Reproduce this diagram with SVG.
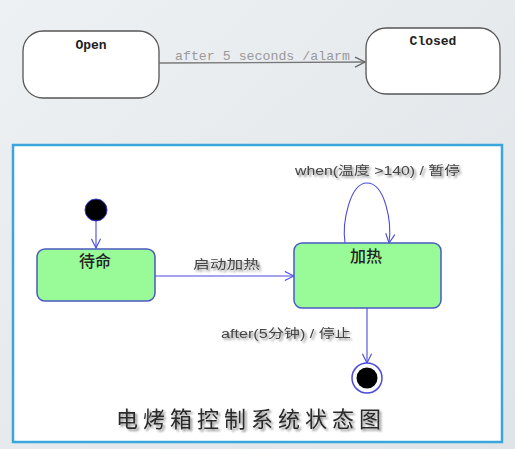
<svg xmlns="http://www.w3.org/2000/svg" width="515" height="449" viewBox="0 0 515 449">
<defs>
<linearGradient id="bg" x1="0" y1="0" x2="1" y2="1">
<stop offset="0" stop-color="#eef1f3"/>
<stop offset="0.5" stop-color="#e6eaed"/>
<stop offset="1" stop-color="#dfe4e8"/>
</linearGradient>
<marker id="grayArrow" viewBox="0 0 12 12" refX="11" refY="6" markerWidth="12" markerHeight="12" markerUnits="userSpaceOnUse" orient="auto">
<path d="M1,1 L11,6 L1,11" fill="none" stroke="#666" stroke-width="1.3"/>
</marker>
<marker id="blueArrow" viewBox="0 0 12 12" refX="11" refY="6" markerWidth="11" markerHeight="11" markerUnits="userSpaceOnUse" orient="auto">
<path d="M1,1 L11,6 L1,11" fill="none" stroke="#4a4ae0" stroke-width="1.2"/>
</marker>
<filter id="shadow" x="-10%" y="-10%" width="130%" height="140%">
<feGaussianBlur in="SourceAlpha" stdDeviation="1.2"/>
<feOffset dx="1.5" dy="1.5" result="b"/>
<feComponentTransfer><feFuncA type="linear" slope="0.45"/></feComponentTransfer>
<feMerge><feMergeNode/><feMergeNode in="SourceGraphic"/></feMerge>
</filter>
</defs>
<style>
.uml { fill: #ffffff; stroke: #555; stroke-width: 1.3; }
.umltxt { font-family: "Liberation Mono", "DejaVu Sans Mono", monospace; font-weight: bold; font-size: 13px; fill: #222; text-anchor: middle; }
.graylbl { font-family: "Liberation Mono", monospace; font-size: 13px; fill: #9a9a9a; }
.state { fill: #98fb98; stroke: #4a58c0; stroke-width: 1.5; }
.stxt { font-family: "Noto Sans CJK SC", sans-serif; font-size: 16px; font-weight: 500; fill: #222; text-anchor: middle; }
.lbl { font-family: "Liberation Sans", "Noto Sans CJK SC", sans-serif; font-size: 12.5px; fill: #444; }
.edge { fill: none; stroke: #4a4ae0; stroke-width: 1.1; }
</style>
<rect x="0" y="0" width="515" height="449" fill="url(#bg)"/>

<g id="node-open">
<rect class="uml" x="23" y="31" width="136" height="67" rx="20" ry="20"/>
<text class="umltxt" x="91" y="49">Open</text>
</g>
<g id="node-closed">
<rect class="uml" x="366" y="28" width="134" height="66" rx="20" ry="20"/>
<text class="umltxt" x="433" y="45">Closed</text>
</g>

<g id="panel">
<rect x="13" y="145" width="489" height="297" fill="#ffffff" stroke="#3aa6dc" stroke-width="2.5"/>
</g>

<g id="connectors">
<line x1="159" y1="63" x2="365" y2="62" stroke="#777" stroke-width="1.3" marker-end="url(#grayArrow)"/>
<text class="graylbl" x="175" y="60" textLength="175" lengthAdjust="spacingAndGlyphs">after 5 seconds /alarm</text>
<line class="edge" x1="96" y1="221" x2="96" y2="248" marker-end="url(#blueArrow)"/>
<line class="edge" x1="155" y1="276" x2="294" y2="276" marker-end="url(#blueArrow)"/>
<text class="lbl" x="193" y="269" font-family="Noto Sans CJK SC, sans-serif" font-size="16" textLength="67" lengthAdjust="spacingAndGlyphs" filter="url(#shadow)">启动加热</text>
<path class="edge" d="M345,243 C342,222 350,183 367,183 C385,183 392,222 389,243" marker-end="url(#blueArrow)"/>
<text class="lbl" x="295" y="175" textLength="165" lengthAdjust="spacingAndGlyphs" filter="url(#shadow)">when(温度 &gt;140) / 暂停</text>
<line class="edge" x1="367" y1="308" x2="367" y2="363" marker-end="url(#blueArrow)"/>
<text class="lbl" x="221" y="338" textLength="130" lengthAdjust="spacingAndGlyphs" filter="url(#shadow)">after(5分钟) / 停止</text>
</g>

<g id="node-initial">
<circle cx="96" cy="210" r="11" fill="#000" stroke="#3a3ad0" stroke-width="1"/>
</g>
<g id="node-standby">
<rect class="state" x="37" y="249" width="118" height="52" rx="8" ry="8"/>
<text class="stxt" x="95" y="267">待命</text>
</g>
<g id="node-heating">
<rect class="state" x="294" y="243" width="147" height="65" rx="8" ry="8"/>
<text class="stxt" x="366" y="262">加热</text>
</g>
<g id="node-final">
<circle cx="367" cy="378" r="15" fill="#fff" stroke="#4a4ae0" stroke-width="1.5"/>
<circle cx="367" cy="378" r="10.5" fill="#000"/>
</g>

<g id="title">
<text x="251" y="427" text-anchor="middle" font-family="Noto Sans CJK SC, sans-serif" font-size="22" letter-spacing="5" fill="#2a2a2a" filter="url(#shadow)">电烤箱控制系统状态图</text>
</g>
</svg>
